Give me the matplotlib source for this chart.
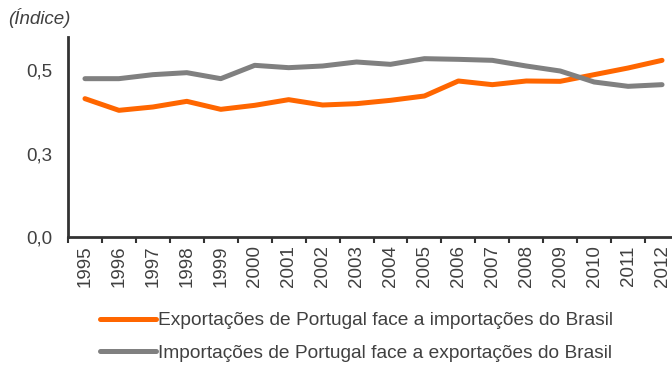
import matplotlib
matplotlib.use("Agg")
import matplotlib.pyplot as plt
from matplotlib.ticker import FixedLocator

plt.rcParams['font.family'] = ['Liberation Sans', 'DejaVu Sans']

years = [str(y) for y in range(1995, 2013)]
exports_pt = [0.415, 0.380, 0.390, 0.407, 0.383, 0.395, 0.412, 0.396, 0.400,
              0.410, 0.423, 0.468, 0.457, 0.468, 0.467, 0.487, 0.507, 0.530]
imports_pt = [0.475, 0.475, 0.487, 0.493, 0.475, 0.515, 0.508, 0.513, 0.525,
              0.518, 0.535, 0.533, 0.530, 0.513, 0.498, 0.465, 0.452, 0.457]
series_labels = ["Exportações de Portugal face a importações do Brasil",
                 "Importações de Portugal face a exportações do Brasil"]
y_ticks = [0.0, 0.25, 0.5]
y_tick_labels = ["0,0", "0,3", "0,5"]

W, H = 672, 365
FS = 13.5
fig = plt.figure(figsize=(W / 100, H / 100), dpi=100)
ax = fig.add_axes([68 / W, 1 - 237 / H, (679 - 68) / W, 200 / H])

text_col = "#404040"
x = list(range(len(years)))
l1, = ax.plot(x, exports_pt, color="#FF6600", lw=3.6, solid_capstyle="round",
              solid_joinstyle="round")
l2, = ax.plot(x, imports_pt, color="#808080", lw=3.6, solid_capstyle="round",
              solid_joinstyle="round")

ax.set_xlim(-0.5, len(years) - 0.5)
ax.set_ylim(0, 0.6)
ax.set_yticks(y_ticks)
ax.set_yticklabels(y_tick_labels, fontsize=FS, color=text_col)
ax.tick_params(axis="y", length=0, pad=11)

ax.xaxis.set_major_locator(FixedLocator([i - 0.5 for i in range(len(years) + 1)]))
ax.xaxis.set_minor_locator(FixedLocator(x))
ax.set_xticklabels([])
ax.set_xticklabels(years, minor=True, rotation=90, fontsize=FS, color=text_col)
ax.tick_params(axis="x", which="major", length=4, width=1.5, color="#333333",
               direction="out")
ax.tick_params(axis="x", which="minor", length=0, pad=6)

for s in ["top", "right"]:
    ax.spines[s].set_visible(False)
for s in ["left", "bottom"]:
    ax.spines[s].set_color("#333333")
    ax.spines[s].set_linewidth(2)

fig.text(8 / W, 1 - 18 / H, "(Índice)", style="italic", fontsize=FS,
         color=text_col, va="center", ha="left")

fig.legend([l1, l2], series_labels, loc="center left",
           bbox_to_anchor=(100 / W, 1 - 337 / H), frameon=False, fontsize=13.8,
           handlelength=2.9, handletextpad=0.12, labelspacing=0.8,
           labelcolor=text_col, borderaxespad=0, borderpad=0)

fig.savefig("out.png", dpi=100)
